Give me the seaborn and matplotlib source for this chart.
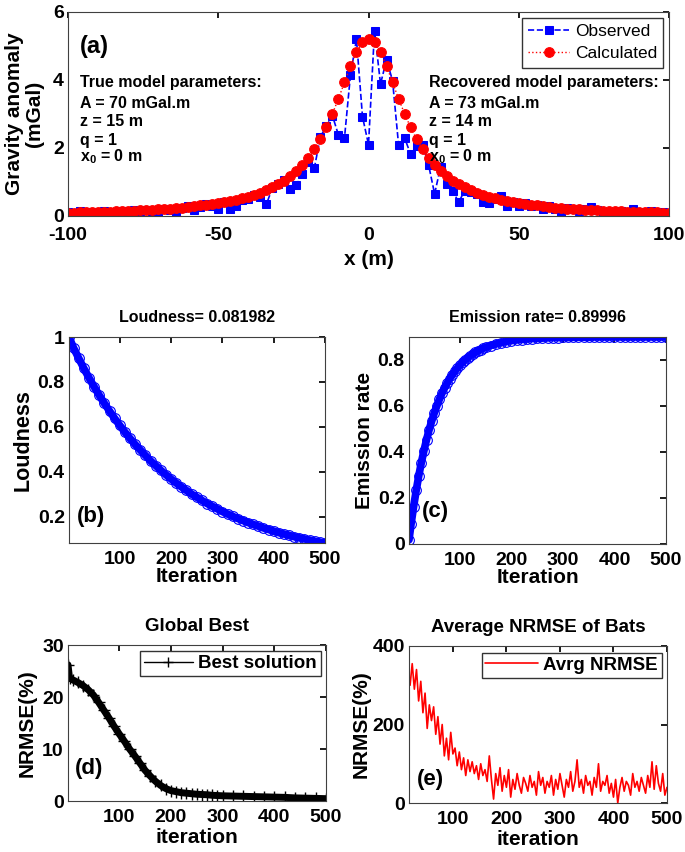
import matplotlib
matplotlib.use("Agg")
import matplotlib.pyplot as plt
import seaborn as sns
import numpy as np
import pandas as pd

# ---------------- data ----------------
x_pos = list(range(-100, 101, 2))
observed = [0.12, 0.10, 0.15, 0.08, 0.12, 0.05, 0.14, 0.10, 0.06, 0.15,
            0.10, 0.17, 0.04, 0.18, 0.12, 0.08, 0.22, 0.18, 0.13, 0.25,
            0.30, 0.18, 0.26, 0.35, 0.30, 0.22, 0.40, 0.22, 0.30, 0.48,
            0.50, 0.62, 0.55, 0.34, 0.82, 0.95, 1.05, 0.80, 0.90, 1.25,
            1.60, 1.42, 2.33, 2.65, 2.95, 2.38, 2.29, 4.15, 5.20, 2.92,
            2.10,
            5.45, 3.88, 4.60, 3.98, 2.10, 2.30, 1.82, 2.05, 2.10, 1.50,
            0.65, 1.45, 0.95, 0.75, 0.40, 0.75, 0.70, 0.65, 0.42, 0.38,
            0.50, 0.60, 0.30, 0.42, 0.28, 0.38, 0.30, 0.32, 0.20, 0.28,
            0.22, 0.05, 0.25, 0.20, 0.15, 0.22, 0.26, 0.18, 0.10, 0.08,
            0.12, 0.15, 0.10, 0.20, 0.12, 0.08, 0.14, 0.10, 0.12, 0.08]
calculated = [0.10, 0.10, 0.11, 0.11, 0.12, 0.12, 0.13, 0.13, 0.14, 0.15,
              0.15, 0.16, 0.17, 0.18, 0.19, 0.20, 0.21, 0.22, 0.24, 0.25,
              0.27, 0.29, 0.31, 0.33, 0.35, 0.38, 0.41, 0.44, 0.48, 0.52,
              0.57, 0.62, 0.69, 0.76, 0.84, 0.93, 1.04, 1.17, 1.32, 1.50,
              1.71, 1.97, 2.26, 2.61, 3.01, 3.45, 3.93, 4.41, 4.82, 5.11,
              5.21,
              5.11, 4.82, 4.41, 3.93, 3.45, 3.01, 2.61, 2.26, 1.97, 1.71,
              1.50, 1.32, 1.17, 1.04, 0.93, 0.84, 0.76, 0.69, 0.62, 0.57,
              0.52, 0.48, 0.44, 0.41, 0.38, 0.35, 0.33, 0.31, 0.29, 0.27,
              0.25, 0.24, 0.22, 0.21, 0.20, 0.19, 0.18, 0.17, 0.16, 0.15,
              0.15, 0.14, 0.13, 0.13, 0.12, 0.12, 0.11, 0.11, 0.10, 0.10]

loud_iter = [1] + list(range(10, 501, 10))
loudness = [1.0, 0.951, 0.905, 0.860, 0.818, 0.778, 0.740, 0.704, 0.670, 0.637,
            0.606, 0.576, 0.548, 0.521, 0.496, 0.472, 0.448, 0.427, 0.406, 0.386,
            0.367, 0.349, 0.332, 0.316, 0.300, 0.286, 0.272, 0.258, 0.246, 0.234,
            0.222, 0.211, 0.201, 0.191, 0.182, 0.173, 0.165, 0.157, 0.149, 0.142,
            0.135, 0.128, 0.122, 0.116, 0.110, 0.105, 0.100, 0.095, 0.090, 0.086,
            0.082]

emis_iter = [1] + list(range(5, 151, 5)) + list(range(160, 501, 10))
emission = [0.018, 0.086, 0.163, 0.233, 0.297, 0.354, 0.406, 0.453, 0.496, 0.534,
            0.569, 0.600, 0.629, 0.655, 0.678, 0.699, 0.718, 0.736, 0.751, 0.765,
            0.778, 0.790, 0.800, 0.810, 0.818, 0.826, 0.833, 0.840, 0.845, 0.851,
            0.855,
            0.863, 0.870, 0.875, 0.880, 0.884, 0.887, 0.889, 0.891, 0.893, 0.894,
            0.895, 0.896, 0.897, 0.897, 0.898, 0.898, 0.899, 0.899, 0.899, 0.899,
            0.900, 0.900, 0.900, 0.900, 0.900, 0.900, 0.900, 0.900, 0.900, 0.900,
            0.900, 0.900, 0.900, 0.900, 0.900]

best_iter = [1, 4] + list(range(10, 301, 10)) + list(range(320, 501, 20))
best_nrmse = [26.2, 23.6, 23.3, 22.8, 22.2, 21.4, 20.4, 19.0, 17.5, 16.0, 14.4, 12.9,
              11.5, 10.0, 8.7, 7.3, 5.9, 4.8, 3.8, 3.0, 2.4, 2.0,
              1.8, 1.6, 1.5, 1.4, 1.3, 1.25, 1.2, 1.1, 1.05, 1.0,
              0.95, 0.9, 0.85, 0.8, 0.75, 0.7, 0.6, 0.55, 0.5, 0.45]

avg_iter = list(range(20, 501, 4))
avg_nrmse = [300, 355, 290, 340, 260, 310, 230, 280, 190, 250, 210, 245, 175, 220, 150, 200,
             120, 165, 110, 180, 125, 140, 95, 130, 85, 115, 70, 110, 80, 105, 75, 95,
             60, 100, 70, 85, 55, 120, 60, 10, 75, 45, 90, 30, 70, 40, 85, 15,
             60, 35, 75, 45, 25, 65, 50, 30, 70, 40, 55, 20, 80, 45, 65, 25,
             55, 40, 70, 20, 60, 35, 75, 45, 15, 60, 40, 80, 30, 55, 110, 40,
             60, 25, 70, 45, 55, 20, 65, 40, 100, 30, 55, 45, 70, 25, 50, 15,
             60, 0, 40, 65, 30, 55, 45, 20, 75, 40, 55, 30, 65, 45, 25, 70,
             40, 105, 35, 95, 50, 30, 75, 20, 40]

# ---------------- style ----------------
sns.set_theme(style="white")
plt.rcParams.update({
    "font.family": ["Liberation Sans", "DejaVu Sans"],
    "font.weight": "bold",
    "axes.labelweight": "bold",
    "axes.titleweight": "bold",
    "axes.unicode_minus": False,
    "axes.edgecolor": "#404040",
    "axes.linewidth": 0.8,
    "xtick.direction": "in",
    "ytick.direction": "in",
    "xtick.top": True,
    "ytick.right": True,
    "xtick.major.size": 4,
    "ytick.major.size": 4,
    "xtick.color": "black",
    "ytick.color": "black",
    "text.color": "black",
    "axes.labelcolor": "black",
    "mathtext.fontset": "custom",
    "mathtext.rm": "Liberation Sans:bold",
    "mathtext.bf": "Liberation Sans:bold",
    "mathtext.it": "Liberation Sans:bold",
})

fig = plt.figure(figsize=(6.85, 8.52), dpi=100)

def add_ax(l, r, t, b):
    W, H = 685.0, 852.0
    return fig.add_axes([l / W, 1 - b / H, (r - l) / W, (b - t) / H])

axA = add_ax(68, 669, 12, 216)
axB = add_ax(69, 325, 337, 543)
axC = add_ax(409, 666, 337, 544)
axD = add_ax(68, 326, 645, 801)
axE = add_ax(409, 667, 646, 803)

for ax in (axA, axB, axC, axD, axE):
    ax.tick_params(labelsize=14)
    ax.tick_params(axis="x", pad=6)
    ax.tick_params(axis="y", pad=3)
    for s in ax.spines.values():
        s.set_visible(True)

# ---- (a)
dfA = pd.DataFrame({"x": x_pos, "obs": observed, "calc": calculated})
sns.lineplot(data=dfA, x="x", y="obs", ax=axA, color="blue", linestyle="--",
             linewidth=1.2, marker="s", markersize=6, markeredgecolor="blue",
             label="Observed")
sns.lineplot(data=dfA, x="x", y="calc", ax=axA, color="red", linestyle=":",
             linewidth=1.0, marker="o", markersize=7, markeredgecolor="red",
             label="Calculated")
axA.set_xlim(-100, 100)
axA.set_ylim(0, 6)
axA.set_xticks([-100, -50, 0, 50, 100])
axA.set_yticks([0, 2, 4, 6])
axA.tick_params(axis="x", pad=8)
axA.set_xlabel("x (m)", fontsize=15, labelpad=4)
axA.set_ylabel("Gravity anomaly\n(mGal)", fontsize=15, linespacing=1.05)
axA.yaxis.set_label_coords(-0.04, 0.5)
leg = axA.legend(loc="upper right", fontsize=12.5, frameon=True, fancybox=False,
                 edgecolor="#333333", framealpha=1, handlelength=2.4,
                 borderpad=0.35, labelspacing=0.4, handletextpad=0.3,
                 borderaxespad=0, bbox_to_anchor=(0.99, 0.97))
for t in leg.get_texts():
    t.set_fontweight("normal")
axA.text(12 / 603, 0.83, "(a)", transform=axA.transAxes, fontsize=17, fontweight="bold",
         va="center", ha="left")
tkw = dict(fontsize=11.5, fontweight="bold", va="center", ha="left")
def ty(y):
    return 1 - (y - 12) / 204.0
xl = 12 / 603
axA.text(xl, ty(83), "True model parameters:", transform=axA.transAxes, **tkw)
axA.text(xl, ty(103), "A = 70 mGal.m", transform=axA.transAxes, **tkw)
axA.text(xl, ty(122), "z = 15 m", transform=axA.transAxes, **tkw)
axA.text(xl, ty(141), "q = 1", transform=axA.transAxes, **tkw)
axA.text(xl, ty(157), r"x$_\mathrm{0}$ = 0 m", transform=axA.transAxes, **tkw)
xr = (430 - 68) / 603
axA.text(xr, ty(83), "Recovered model parameters:", transform=axA.transAxes, **tkw)
axA.text(xr, ty(103), "A = 73 mGal.m", transform=axA.transAxes, **tkw)
axA.text(xr, ty(122), "z = 14 m", transform=axA.transAxes, **tkw)
axA.text(xr, ty(141), "q = 1", transform=axA.transAxes, **tkw)
axA.text(xr, ty(157), r"x$_\mathrm{0}$ = 0 m", transform=axA.transAxes, **tkw)

# ---- (b)
sns.lineplot(x=loud_iter, y=loudness, ax=axB, color="blue", linewidth=5.5,
             marker="o", markersize=7, markerfacecolor="none",
             markeredgecolor="blue", markeredgewidth=0.8)
axB.set_xlim(1, 500)
axB.set_ylim(0.082, 1.0)
axB.set_xticks([100, 200, 300, 400, 500])
axB.set_yticks([0.2, 0.4, 0.6, 0.8, 1.0])
axB.set_yticklabels(["0.2", "0.4", "0.6", "0.8", "1"])
axB.set_title("Loudness= 0.081982", fontsize=11.5, pad=11)
axB.set_xlabel("Iteration", fontsize=15, labelpad=-1)
axB.set_ylabel("Loudness", fontsize=15.5)
axB.yaxis.set_label_coords(-0.14, 0.5)
axB.text(0.03, 0.13, "(b)", transform=axB.transAxes, fontsize=16, fontweight="bold",
         va="center", ha="left")

# ---- (c)
sns.lineplot(x=emis_iter, y=emission, ax=axC, color="blue", linewidth=5.5,
             marker="o", markersize=7, markerfacecolor="none",
             markeredgecolor="blue", markeredgewidth=0.8)
axC.set_xlim(1, 500)
axC.set_ylim(0.0, 0.9)
axC.set_xticks([100, 200, 300, 400, 500])
axC.set_yticks([0, 0.2, 0.4, 0.6, 0.8])
axC.set_yticklabels(["0", "0.2", "0.4", "0.6", "0.8"])
axC.set_title("Emission rate= 0.89996", fontsize=11.5, pad=11)
axC.set_xlabel("Iteration", fontsize=15, labelpad=-1)
axC.set_ylabel("Emission rate", fontsize=15)
axC.yaxis.set_label_coords(-0.135, 0.5)
axC.text(0.05, 0.155, "(c)", transform=axC.transAxes, fontsize=16, fontweight="bold",
         va="center", ha="left")

# ---- (d)
sns.lineplot(x=best_iter, y=best_nrmse, ax=axD, color="black", linewidth=5,
             marker="+", markersize=8, markeredgecolor="black",
             markeredgewidth=1.0, label="Best solution")
axD.set_xlim(1, 500)
axD.set_ylim(0, 30)
axD.set_xticks([100, 200, 300, 400, 500])
axD.set_yticks([0, 10, 20, 30])
axD.set_title("Global Best", fontsize=13.5, pad=10)
axD.set_xlabel("iteration", fontsize=15, labelpad=1)
axD.set_ylabel("NRMSE(%)", fontsize=15)
axD.yaxis.set_label_coords(-0.12, 0.5)
axD.text(0.027, 0.21, "(d)", transform=axD.transAxes, fontsize=16, fontweight="bold",
         va="center", ha="left")
legD = axD.legend(loc="upper right", fontsize=13.5, frameon=True, fancybox=False,
                  edgecolor="#333333", framealpha=1, handlelength=2.6,
                  borderpad=0.2, handletextpad=0.3, borderaxespad=0,
                  bbox_to_anchor=(0.98, 0.96))
for ln in legD.get_lines():
    ln.set_linewidth(1.0)
    ln.set_markersize(7)

# ---- (e)
sns.lineplot(x=avg_iter, y=avg_nrmse, ax=axE, color="red", linewidth=1.2,
             label="Avrg NRMSE")
axE.set_xlim(18, 500)
axE.set_ylim(0, 400)
axE.set_xticks([100, 200, 300, 400, 500])
axE.set_yticks([0, 200, 400])
axE.set_title("Average NRMSE of Bats", fontsize=13.5, pad=10)
axE.set_xlabel("iteration", fontsize=15, labelpad=1)
axE.set_ylabel("NRMSE(%)", fontsize=15)
axE.yaxis.set_label_coords(-0.15, 0.5)
axE.text(0.03, 0.15, "(e)", transform=axE.transAxes, fontsize=16, fontweight="bold",
         va="center", ha="left")
legE = axE.legend(loc="upper right", fontsize=13.5, frameon=True, fancybox=False,
                  edgecolor="#333333", framealpha=1, handlelength=2.8,
                  borderpad=0.2, handletextpad=0.3, borderaxespad=0,
                  bbox_to_anchor=(0.98, 0.955))

fig.savefig("out.png", dpi=100)
